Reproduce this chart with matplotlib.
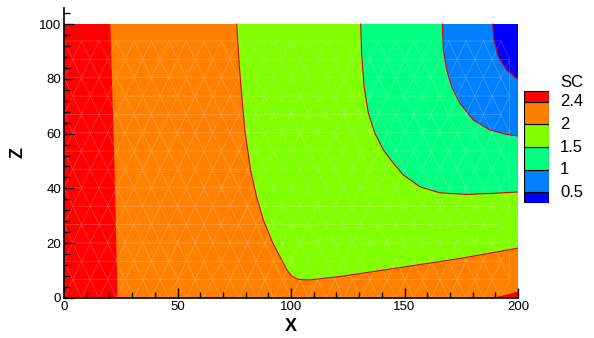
import numpy as np
import matplotlib
matplotlib.use('Agg')
import matplotlib.pyplot as plt
import matplotlib.tri as mtri

plt.rcParams['font.family'] = ['Liberation Sans', 'DejaVu Sans']

# contour levels and band colours (low -> high)
levels = [0.5, 1, 1.5, 2, 2.4]
level_labels = ['0.5', '1', '1.5', '2', '2.4']
band_colors = ['#0000ff', '#0080ff', '#00ff80', '#80ff00', '#ff8000', '#ff0000']

# contour lines, (x, z)
sc24_x = [20.4, 22.3, 23.6]
sc24_z = [100, 47, 0]
sc24_corner_x = [189.5, 195, 200]
sc24_corner_z = [0, 1.0, 2.2]
sc2_x = [76.1, 77.2, 78.5, 79.7, 82.2, 84.8, 87.8, 92.0, 95.9, 98.0, 100.3, 102.5, 104.5, 108.4, 123.0, 148.0, 175.0, 200.0]
sc2_z = [100, 85, 72, 61, 46.7, 37.0, 28.5, 20.0, 13.9, 10.5, 8.0, 7.0, 6.7, 6.6, 8.0, 11.1, 14.5, 18.2]
sc15_x = [130.7, 131.1, 132.2, 134.1, 137.0, 140.7, 145.1, 149.5, 156.8, 165.6, 177.4, 189.1, 200.0]
sc15_z = [100, 89.3, 77.1, 67.4, 60.1, 54.0, 49.2, 44.9, 40.6, 38.4, 37.8, 38.2, 38.7]
sc1_x = [166.7, 167.1, 168.6, 170.8, 174.4, 180.3, 187.7, 195.0, 200.0]
sc1_z = [100, 90.5, 83.2, 77.1, 71.1, 65.0, 61.3, 59.7, 59.1]
sc05_x = [188.8, 189.4, 191.3, 195.0, 199.4, 200.0]
sc05_z = [100, 94.2, 88.1, 83.2, 80.2, 80.0]

x_max, z_max = 200, 100

fig = plt.figure(figsize=(5.94, 3.38), dpi=100)
ax = fig.add_axes([64 / 594, 40 / 338, 454 / 594, 290.4 / 338])

# background band 2 - 2.4
ax.fill([0, x_max, x_max, 0], [0, 0, z_max, z_max], color=band_colors[4], lw=0)
# > 2.4 on the left and in the lower right corner
ax.fill([0] + sc24_x + [0], [z_max] + sc24_z + [0], color=band_colors[5], lw=0)
ax.fill(sc24_corner_x + [x_max], sc24_corner_z + [0], color=band_colors[5], lw=0)
# lower bands, nested into the upper right corner
for cx, cz, col in [(sc2_x, sc2_z, band_colors[3]),
                    (sc15_x, sc15_z, band_colors[2]),
                    (sc1_x, sc1_z, band_colors[1]),
                    (sc05_x, sc05_z, band_colors[0])]:
    ax.fill(cx + [x_max], cz + [z_max], color=col, lw=0)

# faint mesh
dx, dz = 7.7, 6.7
rows = []
for j, zz in enumerate(np.arange(0, z_max + 0.1, dz)):
    xs = np.arange(0, x_max + 0.1, dx) + (dx / 2 if j % 2 else 0)
    xs = np.clip(xs, 0, x_max)
    rows.append(np.column_stack([xs, np.full_like(xs, zz)]))
pts = np.unique(np.vstack(rows), axis=0)
tri = mtri.Triangulation(pts[:, 0], pts[:, 1])
ax.triplot(tri, color='white', lw=0.5, alpha=0.25)

# contour lines
for cx, cz in [(sc2_x, sc2_z), (sc15_x, sc15_z), (sc1_x, sc1_z),
               (sc05_x, sc05_z), (sc24_corner_x, sc24_corner_z)]:
    ax.plot(cx, cz, color='#dd0000', lw=0.8)

ax.set_xlim(0, x_max)
ax.set_ylim(0, 106)
ax.set_xticks([0, 50, 100, 150, 200])
ax.set_xticks(np.arange(0, 201, 10), minor=True)
ax.set_yticks([0, 20, 40, 60, 80, 100])
ax.set_yticks(np.arange(0, 105, 4), minor=True)
ax.tick_params(which='both', direction='in', width=1, labelsize=9.5, pad=2)
ax.tick_params(which='major', length=7)
ax.tick_params(which='minor', length=4)
for s in ['top', 'right']:
    ax.spines[s].set_visible(False)
for s in ['left', 'bottom']:
    ax.spines[s].set_linewidth(1.2)
ax.patch.set_visible(False)
ax.set_xlabel('X', fontsize=13, fontweight='bold', labelpad=4)
ax.set_ylabel('Z', fontsize=13, fontweight='bold', labelpad=9)

# legend
lax = fig.add_axes([524.3 / 594, (338 - 203.3) / 338, 24.4 / 594, 112.6 / 338])
heights = [0.5, 1, 1, 1, 1, 0.5]
bottoms = np.concatenate([[0], np.cumsum(heights)[:-1]])
lax.bar(0, heights, bottom=bottoms, width=1, color=band_colors,
        edgecolor='black', linewidth=0.8, align='edge')
lax.set_xlim(0, 1)
lax.set_ylim(0, sum(heights))
lax.axis('off')
for lab, yb in zip(level_labels, bottoms[1:]):
    lax.text(1.46, yb, lab, fontsize=12, va='center', ha='left',
             transform=lax.get_yaxis_transform())
lax.text(1.46, sum(heights) + 0.37, 'SC', fontsize=12, va='center', ha='left',
         transform=lax.get_yaxis_transform())

fig.savefig('out.png', dpi=100)
